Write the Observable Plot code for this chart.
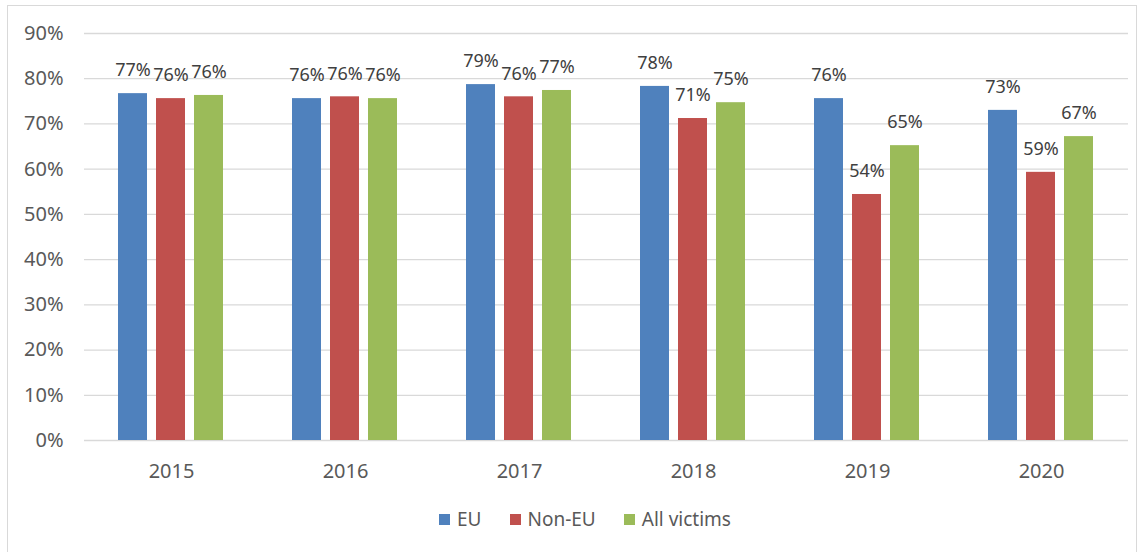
<!DOCTYPE html>
<html>
<head>
<meta charset="utf-8">
<script src="https://cdn.jsdelivr.net/npm/d3@7"></script>
<script src="https://cdn.jsdelivr.net/npm/@observablehq/plot@0.6"></script>
<style>
  html, body { margin: 0; padding: 0; background: #fff; }
  #frame { position: absolute; left: 7px; top: 5px; width: 1130px; height: 560px;
           border: 1px solid #d9d9d9; border-bottom: none; box-sizing: border-box; }
  #chart { position: absolute; left: 0; top: 0; }
  #legend { position: absolute; left: 0; top: 509px; width: 1147px; display: flex;
            justify-content: center; padding-left: 23px; box-sizing: border-box;
            font-family: "Noto Sans", sans-serif; font-size: 19px; color: #595959; line-height: 20px; }
  .item { display: flex; align-items: center; margin: 0 14px; }
  .sw { width: 11px; height: 11px; margin-right: 7px; }
</style>
</head>
<body>
<div id="frame"></div>
<div id="chart"></div>
<div id="legend"></div>
<script>
const years = ["2015", "2016", "2017", "2018", "2019", "2020"];
const seriesNames = ["EU", "Non-EU", "All victims"];
const euValues = [0.767, 0.756, 0.787, 0.783, 0.756, 0.730];
const nonEuValues = [0.756, 0.760, 0.760, 0.712, 0.544, 0.593];
const allValues = [0.763, 0.756, 0.774, 0.747, 0.652, 0.672];
const yTicks = [0, 0.1, 0.2, 0.3, 0.4, 0.5, 0.6, 0.7, 0.8, 0.9];
const colors = ["#4F81BD", "#C0504D", "#9BBB59"];

const valueSets = [euValues, nonEuValues, allValues];
const data = [];
years.forEach((yr, i) => {
  seriesNames.forEach((s, j) => data.push({year: yr, series: s, value: valueSets[j][i]}));
});
const pct = d3.format(".0%");

const chart = Plot.plot({
  width: 1147,
  height: 490,
  marginLeft: 83,
  marginRight: 19,
  marginTop: 33,
  marginBottom: 50,
  style: {fontFamily: "Noto Sans, sans-serif", fontSize: "20px", color: "#595959", background: "transparent"},
  fx: {domain: years, padding: 0, axis: "bottom", tickSize: 0, tickPadding: 23, label: null},
  x: {domain: seriesNames, paddingInner: 0.23, paddingOuter: 0.85, axis: null},
  y: {domain: [0, 0.9], ticks: yTicks, tickFormat: d3.format(".0%"), tickSize: 0, tickPadding: 21, label: null},
  color: {domain: seriesNames, range: colors},
  marks: [
    Plot.ruleY(yTicks, {stroke: "#d9d9d9", strokeWidth: 1.3}),
    Plot.barY(data, {fx: "year", x: "series", y: "value", fill: "series"}),
    Plot.text(data, {fx: "year", x: "series", y: "value", text: d => pct(d.value),
      dy: -23, fontSize: 18, fill: "#404040"})
  ]
});
document.getElementById("chart").appendChild(chart);

const legend = document.getElementById("legend");
seriesNames.forEach((s, j) => {
  const it = document.createElement("div");
  it.className = "item";
  const sw = document.createElement("div");
  sw.className = "sw";
  sw.style.background = colors[j];
  const t = document.createElement("span");
  t.textContent = s;
  it.appendChild(sw); it.appendChild(t);
  legend.appendChild(it);
});
</script>
</body>
</html>
